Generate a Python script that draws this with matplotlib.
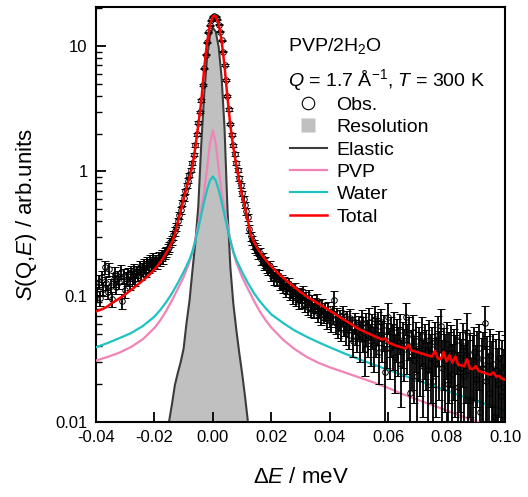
import numpy as np
import matplotlib
matplotlib.use("Agg")
import matplotlib.pyplot as plt
from matplotlib.lines import Line2D
from matplotlib.ticker import LogLocator, NullFormatter, NullLocator

plt.rcParams['font.family'] = ['Liberation Sans', 'DejaVu Sans']
plt.rcParams['mathtext.fontset'] = 'custom'
plt.rcParams['mathtext.rm'] = 'Liberation Sans'
plt.rcParams['mathtext.it'] = 'Liberation Sans:italic'
plt.rcParams['mathtext.bf'] = 'Liberation Sans:bold'
plt.rcParams['axes.unicode_minus'] = False

# ---------------- data ----------------
# observed spectrum: energy bins start at -0.040 meV, bin width 0.0005 meV
obs_start, obs_step = -0.040, 0.0005
obs = [
    0.118, 0.104, 0.131, 0.097, 0.142, 0.115, 0.172, 0.128, 0.109, 0.165,
    0.121, 0.096, 0.137, 0.152, 0.119, 0.143, 0.131, 0.158, 0.092, 0.147,
    0.112, 0.139, 0.151, 0.128, 0.156, 0.142, 0.163, 0.137, 0.158, 0.149,
    0.171, 0.153, 0.166, 0.178, 0.160, 0.184, 0.172, 0.193, 0.181, 0.199,
    0.188, 0.196, 0.184, 0.207, 0.195, 0.214, 0.203, 0.222, 0.226, 0.241,
    0.248, 0.270, 0.281, 0.307, 0.331, 0.362, 0.398, 0.445, 0.488, 0.556,
    0.612, 0.694, 0.771, 0.842, 0.935, 1.03, 1.16, 1.36, 1.62, 1.98,
    2.44, 2.98, 3.68, 4.92, 6.62, 8.55, 10.7, 12.9, 14.6, 16.1,
    17.2, 17.5, 17.1, 16.3, 14.8, 13.0, 11.1, 9.0, 7.05, 5.35,
    4.02, 3.12, 2.39, 1.95, 1.61, 1.37, 1.16, 1.02, 0.88, 0.77,
    0.665, 0.597, 0.536, 0.479, 0.428, 0.348, 0.302, 0.281, 0.262, 0.244,
    0.236, 0.219, 0.221, 0.198, 0.203, 0.183, 0.189, 0.172, 0.166, 0.174,
    0.152, 0.158, 0.141, 0.149, 0.137, 0.146, 0.128, 0.133, 0.121, 0.129,
    0.114, 0.119, 0.126, 0.108, 0.112, 0.101, 0.115, 0.098, 0.104, 0.093,
    0.101, 0.094, 0.108, 0.087, 0.096, 0.083, 0.099, 0.081, 0.090, 0.078,
    0.086, 0.092, 0.074, 0.081, 0.070, 0.084, 0.072, 0.077, 0.066, 0.079,
    0.068, 0.063, 0.072, 0.094, 0.061, 0.069, 0.058, 0.066, 0.055, 0.071,
    0.060, 0.052, 0.064, 0.049, 0.067, 0.056, 0.044, 0.062, 0.053, 0.047,
    0.058, 0.046, 0.061, 0.052, 0.038, 0.057, 0.049, 0.063, 0.044, 0.055,
    0.041, 0.066, 0.050, 0.058, 0.036, 0.062, 0.047, 0.054, 0.025, 0.044,
    0.069, 0.039, 0.051, 0.043, 0.057, 0.033, 0.048, 0.040, 0.054, 0.029,
    0.045, 0.038, 0.069, 0.042, 0.050, 0.017, 0.036, 0.052, 0.031, 0.044,
    0.023, 0.039, 0.034, 0.048, 0.028, 0.041, 0.036, 0.026, 0.045, 0.032,
    0.038, 0.021, 0.043, 0.029, 0.049, 0.034, 0.058, 0.027, 0.037, 0.031,
    0.042, 0.020, 0.033, 0.039, 0.024, 0.035, 0.030, 0.045, 0.019, 0.032,
    0.027, 0.040, 0.023, 0.034, 0.052, 0.026, 0.031, 0.015, 0.029, 0.036,
    0.022, 0.033, 0.039, 0.012, 0.027, 0.031, 0.061, 0.021, 0.028, 0.017,
    0.034, 0.024, 0.029, 0.011, 0.026, 0.020, 0.032, 0.016, 0.025, 0.019,
    0.028,
]
obs_err = [
    0.016, 0.014, 0.017, 0.013, 0.018, 0.015, 0.021, 0.016, 0.014, 0.020,
    0.016, 0.013, 0.017, 0.019, 0.015, 0.018, 0.016, 0.019, 0.012, 0.018,
    0.014, 0.017, 0.018, 0.016, 0.019, 0.017, 0.019, 0.016, 0.018, 0.017,
    0.020, 0.018, 0.019, 0.020, 0.018, 0.021, 0.019, 0.021, 0.020, 0.022,
    0.020, 0.020, 0.019, 0.021, 0.020, 0.021, 0.020, 0.021, 0.021, 0.022,
    0.022, 0.023, 0.023, 0.024, 0.025, 0.026, 0.027, 0.028, 0.029, 0.031,
    0.032, 0.034, 0.036, 0.037, 0.039, 0.041, 0.043, 0.047, 0.051, 0.056,
    0.062, 0.069, 0.077, 0.089, 0.10, 0.12, 0.13, 0.14, 0.15, 0.16,
    0.17, 0.17, 0.17, 0.16, 0.15, 0.14, 0.13, 0.12, 0.11, 0.093,
    0.080, 0.070, 0.061, 0.055, 0.051, 0.047, 0.043, 0.041, 0.038, 0.036,
    0.033, 0.032, 0.030, 0.029, 0.027, 0.026, 0.025, 0.024, 0.023, 0.022,
    0.022, 0.021, 0.021, 0.020, 0.020, 0.019, 0.019, 0.019, 0.018, 0.018,
    0.018, 0.017, 0.017, 0.017, 0.016, 0.016, 0.016, 0.016, 0.015, 0.015,
    0.015, 0.015, 0.015, 0.014, 0.014, 0.014, 0.014, 0.014, 0.013, 0.013,
    0.013, 0.013, 0.014, 0.012, 0.013, 0.012, 0.013, 0.012, 0.013, 0.011,
    0.012, 0.013, 0.011, 0.012, 0.011, 0.012, 0.011, 0.012, 0.011, 0.012,
    0.011, 0.011, 0.012, 0.017, 0.011, 0.012, 0.011, 0.012, 0.011, 0.013,
    0.012, 0.011, 0.012, 0.011, 0.013, 0.012, 0.011, 0.012, 0.012, 0.011,
    0.012, 0.016, 0.017, 0.016, 0.015, 0.017, 0.016, 0.018, 0.016, 0.017,
    0.016, 0.018, 0.017, 0.017, 0.016, 0.018, 0.017, 0.017, 0.015, 0.017,
    0.019, 0.017, 0.018, 0.017, 0.018, 0.016, 0.018, 0.017, 0.019, 0.016,
    0.018, 0.017, 0.020, 0.018, 0.019, 0.015, 0.018, 0.019, 0.017, 0.019,
    0.016, 0.018, 0.018, 0.020, 0.017, 0.019, 0.018, 0.017, 0.020, 0.018,
    0.019, 0.016, 0.020, 0.018, 0.021, 0.019, 0.022, 0.018, 0.019, 0.019,
    0.020, 0.017, 0.019, 0.020, 0.018, 0.020, 0.019, 0.021, 0.017, 0.020,
    0.019, 0.021, 0.018, 0.020, 0.022, 0.019, 0.020, 0.017, 0.020, 0.021,
    0.019, 0.020, 0.021, 0.016, 0.020, 0.021, 0.023, 0.019, 0.020, 0.018,
    0.021, 0.020, 0.021, 0.016, 0.020, 0.019, 0.021, 0.018, 0.020, 0.019,
    0.021,
]

# resolution / elastic component
E_res = [-0.018, -0.017, -0.016, -0.015, -0.014, -0.013, -0.012, -0.011, -0.010,
         -0.009, -0.008, -0.007, -0.006, -0.005, -0.004, -0.003, -0.002, -0.001,
         0.000, 0.001, 0.002, 0.003, 0.004, 0.005, 0.006, 0.007, 0.008, 0.009,
         0.010, 0.011, 0.012, 0.013, 0.014]
resolution = [0.0040, 0.0055, 0.0075, 0.0100, 0.0138, 0.0196, 0.0245, 0.0300, 0.0385,
              0.062, 0.092, 0.160, 0.27, 0.52, 1.6, 4.0, 8.0, 12.0,
              14.0, 13.0, 9.8, 5.6, 2.2, 0.50, 0.17, 0.088, 0.055, 0.036,
              0.0245, 0.0160, 0.0100, 0.0066, 0.0045]

# quasi-elastic components
E_comp = [-0.040, -0.036, -0.032, -0.028, -0.024, -0.020, -0.018, -0.016, -0.014,
          -0.012, -0.010, -0.008, -0.007, -0.006, -0.005, -0.004, -0.003, -0.002,
          -0.001, 0.000, 0.001, 0.002, 0.003, 0.004, 0.005, 0.006, 0.007, 0.008,
          0.010, 0.012, 0.014, 0.016, 0.018, 0.020, 0.024, 0.028, 0.032, 0.036,
          0.040, 0.045, 0.050, 0.055, 0.060, 0.065, 0.070, 0.075, 0.080, 0.085,
          0.090, 0.095, 0.100]
pvp = [0.0308, 0.0329, 0.0356, 0.0395, 0.0455, 0.0560, 0.0645, 0.0765, 0.0930,
       0.1150, 0.143, 0.188, 0.225, 0.285, 0.375, 0.49, 0.676, 1.05,
       1.66, 2.12, 1.66, 1.05, 0.676, 0.49, 0.375, 0.285, 0.225, 0.188,
       0.143, 0.1150, 0.0930, 0.0765, 0.0650, 0.0565, 0.0452, 0.0380, 0.0330, 0.0296,
       0.0272, 0.0248, 0.0226, 0.0206, 0.0186, 0.0166, 0.0150, 0.0136, 0.0123, 0.0111,
       0.0101, 0.0092, 0.0085]
water = [0.0393, 0.0425, 0.0465, 0.0510, 0.0580, 0.0690, 0.0780, 0.0900, 0.106,
         0.128, 0.157, 0.197, 0.229, 0.277, 0.348, 0.445, 0.569, 0.708,
         0.841, 0.910, 0.841, 0.708, 0.569, 0.445, 0.348, 0.277, 0.229, 0.197,
         0.157, 0.128, 0.107, 0.092, 0.081, 0.072, 0.0615, 0.0535, 0.0478, 0.0432,
         0.0393, 0.0351, 0.0316, 0.0286, 0.0260, 0.0236, 0.0214, 0.0195, 0.0177, 0.0161,
         0.0147, 0.0135, 0.0123]

# total fit: grid starts at -0.040 meV, step 0.001 meV
tot_start, tot_step = -0.040, 0.001
total = [
    0.076, 0.0775, 0.079, 0.081, 0.0835, 0.087, 0.090, 0.093, 0.0965, 0.100,
    0.104, 0.108, 0.1125, 0.1175, 0.1225, 0.128, 0.134, 0.140, 0.147, 0.155,
    0.164, 0.175, 0.188, 0.203, 0.222, 0.243, 0.272, 0.315, 0.39, 0.48,
    0.60, 0.74, 0.89, 1.10, 1.55, 2.35, 3.55, 6.5, 10.6, 14.7,
    17.3, 17.3, 15.0, 11.0, 6.9, 3.9, 2.3, 1.55, 1.12, 0.85,
    0.64, 0.515, 0.40, 0.31, 0.275, 0.248, 0.228, 0.211, 0.197, 0.185,
    0.174, 0.1645, 0.156, 0.1485, 0.1415, 0.135, 0.129, 0.1235, 0.118, 0.113,
    0.1085, 0.1045, 0.1005, 0.097, 0.094, 0.091, 0.0883, 0.0854, 0.0825, 0.0798,
    0.0771, 0.0745, 0.0720, 0.0696, 0.0673, 0.0651, 0.0629, 0.0608, 0.0588, 0.0568,
    0.0549, 0.0535, 0.0522, 0.0510, 0.0498, 0.0486, 0.0474, 0.0463, 0.0452, 0.0464,
    0.0431, 0.0420, 0.0410, 0.0403, 0.0397, 0.0390, 0.0384, 0.0410, 0.0371, 0.0365,
    0.0359, 0.0353, 0.0348, 0.0342, 0.0337, 0.0331, 0.0368, 0.0321, 0.0315, 0.0360,
    0.0302, 0.0340, 0.0296, 0.0332, 0.0284, 0.0282, 0.0277, 0.0316, 0.0266, 0.0263,
    0.0278, 0.0254, 0.0250, 0.0245, 0.0241, 0.0237, 0.0248, 0.0229, 0.0232, 0.0221,
    0.0217,
]

x_ticks = [-0.04, -0.02, 0.00, 0.02, 0.04, 0.06, 0.08, 0.10]
x_tick_labels = ['-0.04', '-0.02', '0.00', '0.02', '0.04', '0.06', '0.08', '0.10']
y_ticks = [0.01, 0.1, 1, 10]
y_tick_labels = ['0.01', '0.1', '1', '10']
legend_labels = ['Obs.', 'Resolution', 'Elastic', 'PVP', 'Water', 'Total']

assert len(obs) == len(obs_err)
assert len(E_res) == len(resolution)
assert len(E_comp) == len(pvp) == len(water)

E_obs = np.round(obs_start + obs_step * np.arange(len(obs)), 4)
E_tot = np.round(tot_start + tot_step * np.arange(len(total)), 3)

# ---------------- styles ----------------
c_res_fill = '#c0c0c0'
c_elastic = '#3c3c3c'
c_pvp = '#f283b6'
c_water = '#1fc2c2'
c_total = '#ff0000'

fig = plt.figure(figsize=(5.28, 4.97), dpi=100)
ax = fig.add_axes([96 / 528, 1 - 421.7 / 497, (505 - 96) / 528, (421.7 - 7) / 497])
ax.set_yscale('log')

ax.fill_between(E_res, resolution, 1e-4, color=c_res_fill, lw=0, zorder=1)
ax.plot(E_res, resolution, color=c_elastic, lw=1.5, zorder=2)
ax.plot(E_comp, pvp, color=c_pvp, lw=1.6, zorder=3)
ax.plot(E_comp, water, color=c_water, lw=1.6, zorder=3)
ax.errorbar(E_obs, obs, yerr=obs_err, fmt='o', ms=4, mfc='none', mec='black',
            mew=0.7, ecolor='black', elinewidth=1.3, capsize=3, capthick=1.4,
            zorder=4)
ax.plot(E_tot, total, color=c_total, lw=1.8, zorder=5)

ax.set_xlim(-0.04, 0.10)
ax.set_ylim(0.01, 20.5)
ax.set_xticks(x_ticks)
ax.set_xticklabels(x_tick_labels)
ax.xaxis.set_minor_locator(NullLocator())
ax.set_yticks(y_ticks)
ax.set_yticklabels(y_tick_labels)
ax.yaxis.set_minor_locator(LogLocator(base=10, subs=np.arange(2, 10)))
ax.yaxis.set_minor_formatter(NullFormatter())
ax.tick_params(which='both', direction='in', top=False, right=False)
ax.tick_params(which='major', length=7, width=1.3, labelsize=12, pad=6)
ax.tick_params(which='minor', length=4, width=1.0)
for s in ax.spines.values():
    s.set_linewidth(1.5)

ax.set_xlabel('Δ$E$ / meV', fontsize=16, labelpad=16)
ax.set_ylabel('$S$(Q,$E$) / arb.units', fontsize=16, labelpad=12)

ax.text(0.469, 0.906, 'PVP/2H$_2$O', transform=ax.transAxes, fontsize=14,
        ha='left', va='center')
ax.text(0.469, 0.824, '$Q$ = 1.7 Å$^{-1}$, $T$ = 300 K', transform=ax.transAxes,
        fontsize=14, ha='left', va='center')

handles = [
    Line2D([], [], ls='none', marker='o', ms=9, mfc='none', mec='black', mew=0.8),
    Line2D([], [], ls='none', marker='s', ms=10, mfc=c_res_fill, mec='none'),
    Line2D([], [], color=c_elastic, lw=1.5),
    Line2D([], [], color=c_pvp, lw=1.6),
    Line2D([], [], color=c_water, lw=1.6),
    Line2D([], [], color=c_total, lw=1.8),
]
ax.legend(handles, legend_labels, loc='upper left', bbox_to_anchor=(0.474, 0.785),
          frameon=False, fontsize=14, handlelength=1.9, handletextpad=0.5,
          labelspacing=0.245, borderpad=0, borderaxespad=0)

fig.savefig('out.png', dpi=100)
